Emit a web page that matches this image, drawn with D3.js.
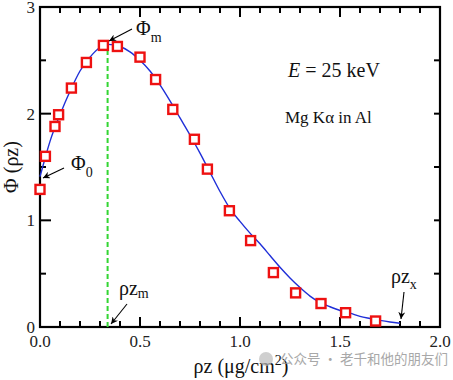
<!DOCTYPE html>
<html><head><meta charset="utf-8">
<script src="https://cdn.jsdelivr.net/npm/d3@7"></script>
<style>body{margin:0;background:#fff}svg{display:block}</style>
</head><body>
<svg id="c" width="453" height="380"></svg>
<script>
// measured points
const pointX = [0.0, 0.027, 0.075, 0.093, 0.157, 0.232, 0.317, 0.387, 0.5, 0.578, 0.664, 0.772, 0.837, 0.947, 1.053, 1.167, 1.278, 1.405, 1.528, 1.678];
const pointY = [1.29, 1.60, 1.88, 1.99, 2.24, 2.48, 2.64, 2.63, 2.53, 2.32, 2.04, 1.76, 1.48, 1.09, 0.81, 0.51, 0.32, 0.22, 0.134, 0.056];
// model curve
const curveX = [0.0, 0.025, 0.05, 0.1, 0.15, 0.2, 0.25, 0.3, 0.34, 0.4, 0.45, 0.5, 0.55, 0.6, 0.65, 0.7, 0.75, 0.8, 0.85, 0.9, 0.95, 1.0, 1.05, 1.1, 1.15, 1.2, 1.25, 1.3, 1.35, 1.4, 1.45, 1.5, 1.55, 1.6, 1.65, 1.7, 1.75, 1.8];
const curveY = [1.41, 1.58, 1.74, 1.99, 2.21, 2.40, 2.53, 2.62, 2.65, 2.63, 2.58, 2.50, 2.40, 2.27, 2.12, 1.96, 1.80, 1.63, 1.45, 1.27, 1.11, 0.99, 0.88, 0.78, 0.67, 0.56, 0.46, 0.37, 0.29, 0.23, 0.19, 0.155, 0.13, 0.10, 0.08, 0.062, 0.047, 0.035];
const peakX = 0.338, peakY = 2.645;
const xTicks = [0.0, 0.5, 1.0, 1.5, 2.0];
const xTickLabels = ["0.0", "0.5", "1.0", "1.5", "2.0"];
const yTicks = [0, 1, 2, 3];
const yTickLabels = ["0", "1", "2", "3"];

const svg = d3.select("#c");
const L = 40, R = 440, T = 7, B = 327;
const x = d3.scaleLinear().domain([0, 2]).range([L, R]);
const y = d3.scaleLinear().domain([0, 3]).range([B, T]);
const serif = "'Liberation Serif','Times New Roman',serif";

const defs = svg.append("defs");
defs.append("marker").attr("id","ar").attr("viewBox","0 0 10 10").attr("refX",10).attr("refY",5)
  .attr("markerWidth",7).attr("markerHeight",7).attr("orient","auto-start-reverse").attr("markerUnits","userSpaceOnUse")
  .append("path").attr("d","M0,0 L10,5 L0,10 L3,5 Z").attr("fill","#000");

// ticks
const g = svg.append("g");
const minorX = d3.range(0, 2.0001, 0.1);
minorX.forEach(v => {
  const major = Math.abs(v*2 - Math.round(v*2)) < 1e-6;
  g.append("line").attr("x1",x(v)).attr("x2",x(v)).attr("y1",B).attr("y2",B-(major?10:6)).attr("stroke","#000").attr("stroke-width",2);
  g.append("line").attr("x1",x(v)).attr("x2",x(v)).attr("y1",T).attr("y2",T+(major?10:6)).attr("stroke","#000").attr("stroke-width",2);
});
d3.range(0, 3.0001, 0.5).forEach(v => {
  const major = Math.abs(v - Math.round(v)) < 1e-6;
  g.append("line").attr("x1",L).attr("x2",L+(major?11:6)).attr("y1",y(v)).attr("y2",y(v)).attr("stroke","#000").attr("stroke-width",2);
  g.append("line").attr("x1",R).attr("x2",R-6).attr("y1",y(v)).attr("y2",y(v)).attr("stroke","#000").attr("stroke-width",2);
});
svg.append("rect").attr("x",L).attr("y",T).attr("width",R-L).attr("height",B-T).attr("fill","none").attr("stroke","#000").attr("stroke-width",2.2);

// tick labels
xTicks.forEach((v,i) => svg.append("text").attr("x",x(v)).attr("y",347).attr("text-anchor","middle")
  .attr("font-family",serif).attr("font-size",17).attr("fill","#222").text(xTickLabels[i]));
yTicks.forEach((v,i) => svg.append("text").attr("x",35).attr("y",y(v)+6).attr("text-anchor","end")
  .attr("font-family",serif).attr("font-size",17).attr("fill","#222").text(yTickLabels[i]));

// axis titles
const xt = svg.append("text").attr("x",241).attr("y",373).attr("text-anchor","middle").attr("font-family",serif).attr("font-size",20).attr("fill","#111");
xt.append("tspan").text("ρz (μg/cm");
xt.append("tspan").attr("dy",-8).attr("font-size",14).text("2");
xt.append("tspan").attr("dy",8).text(")");
svg.append("text").attr("transform","translate(18,167) rotate(-90)").attr("text-anchor","middle")
  .attr("font-family",serif).attr("font-size",20).attr("fill","#111").text("Φ (ρz)");

// green dashed line
svg.append("line").attr("x1",x(peakX)).attr("x2",x(peakX)).attr("y1",y(0)).attr("y2",y(peakY))
  .attr("stroke","#33d633").attr("stroke-width",2).attr("stroke-dasharray","5,3");

// curve
const line = d3.line().x(d=>x(d[0])).y(d=>y(d[1])).curve(d3.curveMonotoneX);
svg.append("path").datum(curveX.map((v,i)=>[v,curveY[i]])).attr("d",line)
  .attr("fill","none").attr("stroke","#1f2fd8").attr("stroke-width",1.4);

// points
svg.selectAll("rect.pt").data(pointX.map((v,i)=>[v,pointY[i]])).enter().append("rect").attr("class","pt")
  .attr("x",d=>x(d[0])-4.5).attr("y",d=>y(d[1])-4.5).attr("width",9).attr("height",9)
  .attr("fill","#fff").attr("stroke","#ee1111").attr("stroke-width",2.4);

// annotations
function arrow(x1,y1,x2,y2){ svg.append("line").attr("x1",x1).attr("y1",y1).attr("x2",x2).attr("y2",y2)
  .attr("stroke","#000").attr("stroke-width",1.1).attr("marker-end","url(#ar)"); }
function sub(xp,yp,main,s,dx,dy,fs){
  const t = svg.append("text").attr("x",xp).attr("y",yp).attr("font-family",serif).attr("font-size",fs).attr("fill","#111");
  t.append("tspan").text(main);
  t.append("tspan").attr("dy",dy).attr("font-size",fs*0.7).text(s);
}
sub(136,35,"Φ","m",0,7,20); arrow(132,29,109,41);
sub(71,170,"Φ","0",0,7,20); arrow(64,168,43,178);
sub(119,295,"ρz","m",0,3,20); arrow(127,304,111,324);
sub(391,283,"ρz","x",0,6,20); arrow(404,292,401,319);

const e = svg.append("text").attr("x",288).attr("y",77).attr("font-family",serif).attr("font-size",20).attr("fill","#111");
e.append("tspan").attr("font-style","italic").text("E");
e.append("tspan").text(" = 25 keV");
svg.append("text").attr("x",285).attr("y",123).attr("font-family",serif).attr("font-size",17).attr("fill","#111").text("Mg Kα in Al");

// watermark
svg.append("circle").attr("cx",266).attr("cy",359).attr("r",7).attr("fill","#bbb").attr("opacity",0.7);
svg.append("text").attr("x",280).attr("y",364).attr("font-family","'Noto Sans CJK SC',sans-serif").attr("font-size",13.5)
  .attr("fill","#999").attr("opacity",0.85).text("公众号 · 老千和他的朋友们");
</script>
</body></html>
